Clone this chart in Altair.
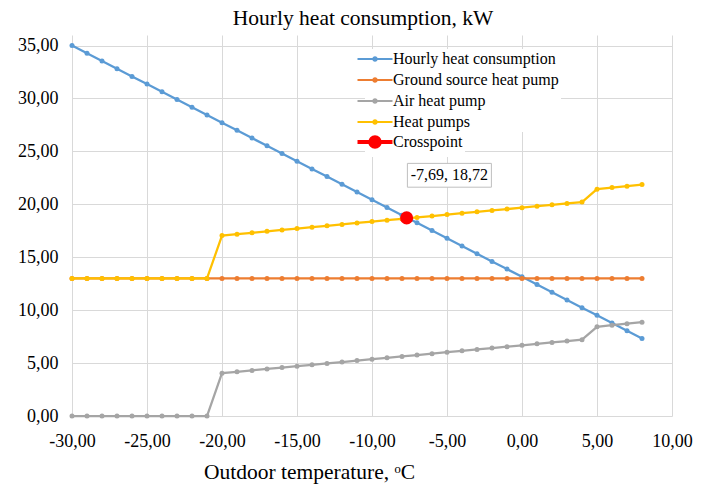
import altair as alt
import pandas as pd

temps = list(range(-30, 9))
hourly = [35.00, 34.27, 33.54, 32.81, 32.09, 31.36, 30.63, 29.90, 29.17, 28.44,
          27.72, 26.99, 26.26, 25.53, 24.80, 24.07, 23.34, 22.62, 21.89, 21.16,
          20.43, 19.70, 18.97, 18.25, 17.52, 16.79, 16.06, 15.33, 14.60, 13.88,
          13.15, 12.42, 11.69, 10.96, 10.23, 9.51, 8.78, 8.05, 7.32]
ground = [13.0, 13.0, 13.0, 13.0, 13.0, 13.0, 13.0, 13.0, 13.0, 13.0,
          13.0, 13.0, 13.0, 13.0, 13.0, 13.0, 13.0, 13.0, 13.0, 13.0,
          13.0, 13.0, 13.0, 13.0, 13.0, 13.0, 13.0, 13.0, 13.0, 13.0,
          13.0, 13.0, 13.0, 13.0, 13.0, 13.0, 13.0, 13.0, 13.0]
air = [0.0, 0.0, 0.0, 0.0, 0.0, 0.0, 0.0, 0.0, 0.0, 0.0,
       4.05, 4.18, 4.31, 4.45, 4.58, 4.71, 4.84, 4.97, 5.10, 5.24,
       5.37, 5.50, 5.63, 5.76, 5.89, 6.03, 6.16, 6.29, 6.42, 6.55,
       6.68, 6.82, 6.95, 7.08, 7.21, 8.43, 8.58, 8.72, 8.87]
heat_pumps = [13.0, 13.0, 13.0, 13.0, 13.0, 13.0, 13.0, 13.0, 13.0, 13.0,
              17.05, 17.18, 17.31, 17.45, 17.58, 17.71, 17.84, 17.97, 18.10, 18.24,
              18.37, 18.50, 18.63, 18.76, 18.89, 19.03, 19.16, 19.29, 19.42, 19.55,
              19.68, 19.82, 19.95, 20.08, 20.21, 21.43, 21.58, 21.72, 21.87]

series_names = ["Hourly heat consumption", "Ground source heat pump", "Air heat pump", "Heat pumps"]
series_colors = ["#5B9BD5", "#ED7D31", "#A5A5A5", "#FFC000"]
series_values = [hourly, ground, air, heat_pumps]

cross_x = [-7.69]
cross_y = [18.72]
cross_name = ["Crosspoint"]
cross_label = ["-7,69, 18,72"]

FONT = "Liberation Serif"

rows = []
for name, vals in zip(series_names, series_values):
    for t, v in zip(temps, vals):
        rows.append({"t": t, "v": v, "series": name})
df = pd.DataFrame(rows)

cross_df = pd.DataFrame({"t": cross_x, "v": cross_y, "name": cross_name, "label": cross_label})
cross_df["bx"] = cross_df["t"] + 0.05
cross_df["bx2"] = cross_df["t"] + 5.65
cross_df["by"] = cross_df["v"] + 2.9
cross_df["by2"] = cross_df["v"] + 5.15
cross_df["tx"] = cross_df["t"] + 2.85
cross_df["ty"] = cross_df["v"] + 4.02


def circ(a):
    return f"M{-a},0A{a},{a} 0 1,0 {a},0A{a},{a} 0 1,0 {-a},0"


sym_series = "M-3.5,0L3.5,0" + circ(0.1) + circ(0.25) + circ(0.35)
sym_cross = "M-3.5,0L3.5,0" + circ(0.15) + circ(0.35) + circ(0.55) + circ(0.75) + circ(0.95)

lab = "(datum.value < 0 ? '-' : '') + replace(format(abs(datum.value), '.2f'), '.', ',')"

x_enc = alt.X("t:Q", scale=alt.Scale(domain=[-30, 10], nice=False, zero=False),
              axis=alt.Axis(values=list(range(-30, 11, 5)), labelExpr=lab, labelFlush=False,
                            labelFont=FONT, titleFont=FONT,
                            title="Outdoor temperature, ᵒC", titleX=237, titleY=45,
                            titleAnchor="middle", titleAlign="center"))
y_enc = alt.Y("v:Q", scale=alt.Scale(domain=[0, 36], nice=False, zero=False),
              axis=alt.Axis(values=list(range(0, 36, 5)), labelExpr=lab, labelFlush=False,
                            labelFont=FONT, title=None))

color_scale = alt.Scale(domain=series_names, range=series_colors)

leg = alt.Legend(title=None, orient="none", legendX=293, legendY=14,
                 symbolType=sym_series, symbolSize=100, symbolStrokeWidth=2,
                 labelFont=FONT, labelFontSize=16, labelColor="#000000",
                 rowPadding=5, labelOffset=10, fillColor="#FFFFFF", padding=2,
                 labelLimit=300)

layers = []
for i, name in enumerate(series_names):
    sub = alt.Chart(df).transform_filter(alt.datum.series == name)
    line = sub.mark_line(strokeWidth=2.25).encode(
        x=x_enc, y=y_enc,
        color=alt.Color("series:N", scale=color_scale, legend=leg))
    pts = sub.mark_point(filled=True, size=25, opacity=1).encode(
        x="t:Q", y="v:Q",
        color=alt.Color("series:N", scale=color_scale, legend=leg))
    layers += [line, pts]

cross_line = alt.Chart(cross_df).mark_line(strokeWidth=4).encode(
    x="t:Q", y="v:Q",
    stroke=alt.Stroke("name:N", scale=alt.Scale(domain=cross_name, range=["#FF0000"]),
                      legend=alt.Legend(title=None, orient="none", legendX=293, legendY=97,
                                        symbolType=sym_cross, symbolSize=100, symbolStrokeWidth=4,
                                        labelFont=FONT, labelFontSize=16, labelColor="#000000",
                                        labelOffset=10, padding=2, fillColor="#FFFFFF")))
cross_pt = alt.Chart(cross_df).mark_point(filled=True, size=170, opacity=1, color="#FF0000").encode(
    x="t:Q", y="v:Q")

box = alt.Chart(cross_df).mark_rect(fill="#FFFFFF", stroke="#BFBFBF", strokeWidth=1).encode(
    x="bx:Q", x2="bx2:Q", y="by:Q", y2="by2:Q")
box_text = alt.Chart(cross_df).mark_text(font=FONT, fontSize=16, color="#000000").encode(
    x="tx:Q", y="ty:Q", text="label:N")

chart = alt.layer(*layers, cross_line, cross_pt, box, box_text).properties(
    width=600, height=381,
    padding={"left": 72, "top": 35, "right": 35, "bottom": 68},
    autosize=alt.AutoSizeParams(type="none"),
    title=alt.TitleParams("Hourly heat consumption, kW", font=FONT, fontSize=21.5,
                          fontWeight="normal", color="#000000", anchor="middle",
                          dx=-9, offset=6),
).configure(font=FONT).configure_axis(
    domain=False, ticks=False, grid=True, gridColor="#D9D9D9", gridWidth=1,
    labelFont=FONT, labelFontSize=18, labelColor="#000000",
    titleFont=FONT, titleFontSize=21.5, titleFontWeight="normal", titleColor="#000000",
).configure_axisX(labelPadding=16).configure_axisY(labelPadding=14).configure_legend(
    labelFont=FONT).configure_view(stroke=None)

chart.save("out.html", embed_options={"renderer": "svg", "actions": False})
